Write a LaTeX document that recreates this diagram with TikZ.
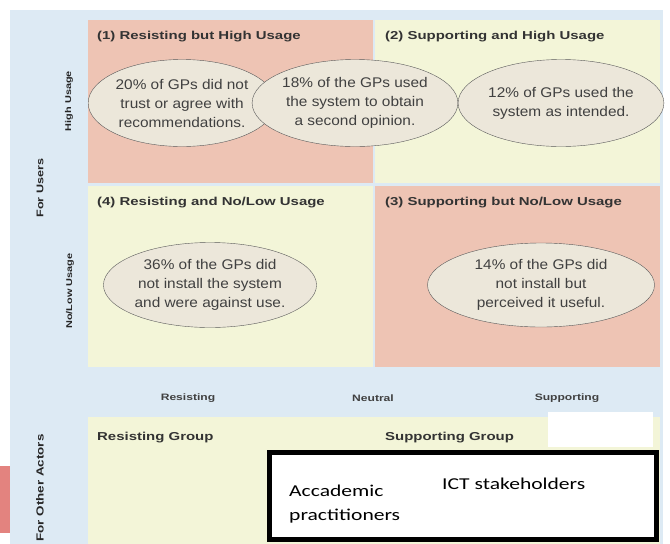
\documentclass[tikz,border=0pt]{standalone}
\usepackage{fontspec}
\setmainfont{Liberation Sans}
\newfontfamily\widesans[FakeStretch=1.3]{Liberation Sans}
\newfontfamily\ovalsans[FakeStretch=1.1]{Liberation Sans}
\newfontfamily\boxfont[FakeStretch=1.3]{Carlito}
\usetikzlibrary{shapes.geometric}
\definecolor{bgblue}{HTML}{DDEAF4}
\definecolor{quadpink}{HTML}{EEC4B4}
\definecolor{quadyellow}{HTML}{F3F5D8}
\definecolor{ovalfill}{HTML}{ECE7DA}
\definecolor{markred}{HTML}{E3837F}

\begin{document}
\begin{tikzpicture}[x=1pt,y=-1pt,
	quadtitle/.style={anchor=base west,inner sep=0pt,text=black!80,font=\widesans\bfseries\fontsize{11.5}{13}\selectfont},
	oval/.style={ellipse,draw=black!65,fill=ovalfill,inner sep=0pt,align=center,text=black!75,font=\ovalsans\fontsize{14}{19}\selectfont},
	sidelabel/.style={rotate=90,inner sep=0pt,text=black!85,font=\widesans\bfseries\fontsize{8.4}{10}\selectfont},
	axislabel/.style={inner sep=0pt,text=black!75,font=\widesans\bfseries\fontsize{9.3}{11}\selectfont},
	boxtext/.style={anchor=west,inner sep=0pt,align=left,font=\boxfont\fontsize{16.6}{24}\selectfont}]
		\useasboundingbox (0,0) rectangle (670,544);
		% background and quadrants
		\fill[white] (0,0) rectangle (670,544);
		\fill[bgblue] (10,10) rectangle (663,544);
		\fill[quadpink] (88,20) rectangle (373,183);
		\fill[quadyellow] (375,20) rectangle (660,183);
		\fill[quadyellow] (88,186) rectangle (373,367);
		\fill[quadpink] (375,186) rectangle (660,367);
		\fill[quadyellow] (88,417) rectangle (660,544);
		\fill[white] (548,412) rectangle (653,447);
		\fill[markred] (0,466) rectangle (10,533);
		% titles
		\node[quadtitle] (q1) at (97,39) {(1) Resisting but High Usage};
		\node[quadtitle] (q2) at (385,39) {(2) Supporting and High Usage};
		\node[quadtitle] (q4) at (97,205) {(4) Resisting and No/Low Usage};
		\node[quadtitle] (q3) at (385,205) {(3) Supporting but No/Low Usage};
		\node[quadtitle] (resgroup) at (97,440) {Resisting Group};
		\node[quadtitle] (supgroup) at (385,440) {Supporting Group};
		% ovals
		\node[oval,minimum width=179pt,minimum height=87pt] (distrust) at (182,103) {20\% of GPs did not\\trust or agree with\\recommendations.};
		\node[oval,minimum width=180pt,minimum height=87pt] (opinion) at (355,103) {18\% of the GPs used\\the system to obtain\\a second opinion.};
		\node[oval,minimum width=182pt,minimum height=87pt] (intended) at (561,103) {12\% of GPs used the\\system as intended.};
		\node[oval,minimum width=184pt,minimum height=85pt] (against) at (210,285) {36\% of the GPs did\\not install the system\\and were against use.};
		\node[oval,minimum width=227pt,minimum height=84pt] (useful) at (541,285) {14\% of the GPs did\\not install but\\perceived it useful.};
		% side and axis labels
		\node[sidelabel] (high) at (69,101) {High Usage};
		\node[sidelabel] (nolow) at (70,291) {No/Low Usage};
		\node[sidelabel,font=\widesans\bfseries\fontsize{9.7}{11}\selectfont] (users) at (40,188) {For Users};
		\node[sidelabel,font=\widesans\bfseries\fontsize{10.3}{11}\selectfont] (others) at (40,488) {For Other Actors};
		\node[axislabel] (resisting) at (188,398) {Resisting};
		\node[axislabel] (neutral) at (373,398) {Neutral};
		\node[axislabel] (supporting) at (567,398) {Supporting};
		% actors box
		\node[draw,line width=5pt,fill=white,anchor=north west,minimum width=387pt,minimum height=87pt] (actors) at (266.5,449.5) {};
		\node[boxtext] (academic) at (289,504) {Accademic\\practitioners};
		\node[boxtext] (ict) at (442,484) {ICT stakeholders};
	\end{tikzpicture}
\end{document}
